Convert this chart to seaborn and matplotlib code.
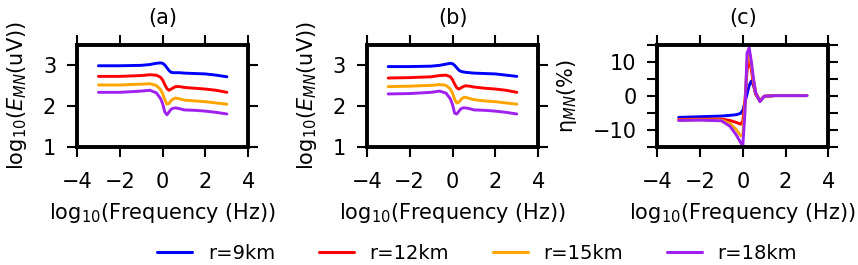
import matplotlib
matplotlib.use("Agg")
import matplotlib.pyplot as plt
import numpy as np
import pandas as pd
import seaborn as sns

# ---------------- data ----------------
freq_log = [-3, -2, -1, -0.6, -0.3, -0.1, 0, 0.1, 0.2, 0.3, 0.4, 0.5, 0.6, 0.8, 1.0, 1.5, 2, 2.5, 3]
series_labels = ["r=9km", "r=12km", "r=15km", "r=18km"]
series_colors = ["#0000ff", "#ff0000", "#ffa500", "#a020f0"]

# panel (a): log10(E_MN)
a_r9 = [2.98, 2.98, 2.99, 3.01, 3.04, 3.05, 3.04, 3.00, 2.93, 2.86, 2.82, 2.81, 2.81, 2.81, 2.80, 2.79, 2.78, 2.75, 2.71]
a_r12 = [2.72, 2.72, 2.74, 2.76, 2.75, 2.70, 2.63, 2.52, 2.42, 2.38, 2.41, 2.44, 2.47, 2.47, 2.45, 2.43, 2.41, 2.38, 2.33]
a_r15 = [2.51, 2.51, 2.53, 2.54, 2.50, 2.40, 2.30, 2.15, 2.04, 2.06, 2.13, 2.17, 2.19, 2.17, 2.14, 2.12, 2.10, 2.07, 2.04]
a_r18 = [2.33, 2.33, 2.36, 2.38, 2.32, 2.18, 2.05, 1.85, 1.78, 1.85, 1.92, 1.94, 1.95, 1.93, 1.90, 1.89, 1.87, 1.84, 1.80]

# panel (b): log10(E_MN)
b_r9 = [2.96, 2.96, 2.97, 2.99, 3.02, 3.04, 3.03, 2.99, 2.93, 2.87, 2.84, 2.83, 2.82, 2.81, 2.80, 2.79, 2.78, 2.75, 2.72]
b_r12 = [2.68, 2.69, 2.71, 2.74, 2.75, 2.71, 2.64, 2.53, 2.44, 2.41, 2.44, 2.47, 2.49, 2.48, 2.46, 2.43, 2.41, 2.38, 2.33]
b_r15 = [2.47, 2.48, 2.50, 2.52, 2.50, 2.41, 2.31, 2.16, 2.07, 2.09, 2.16, 2.20, 2.21, 2.18, 2.15, 2.12, 2.10, 2.07, 2.04]
b_r18 = [2.29, 2.30, 2.33, 2.36, 2.31, 2.17, 2.03, 1.82, 1.80, 1.87, 1.93, 1.95, 1.95, 1.93, 1.90, 1.89, 1.87, 1.84, 1.80]

# panel (c): eta_MN (%)
c_r9 = [-6.4, -6.2, -6.0, -5.8, -5.6, -5.2, -4.3, -2.0, 0.5, 3.0, 4.3, 3.0, 0.5, -1.5, -0.2, 0, 0, 0, 0]
c_r12 = [-7.0, -6.9, -6.9, -7.3, -7.9, -8.4, -7.5, -1.5, 7.5, 11.0, 7.5, 3.5, 0.5, -1.5, -0.2, 0, 0, 0, 0]
c_r15 = [-7.2, -7.1, -7.2, -8.2, -10.0, -11.8, -11.5, -3.0, 10.0, 13.0, 9.0, 4.5, 1.0, -1.6, -0.2, 0, 0, 0, 0]
c_r18 = [-7.3, -7.2, -7.4, -9.0, -11.6, -13.8, -14.8, -5.0, 12.5, 14.0, 10.0, 5.0, 1.0, -1.8, -0.2, 0, 0, 0, 0]

x_ticks = [-4, -2, 0, 2, 4]
e_ticks = [1, 2, 3]
eta_ticks = [-15, -10, -5, 0, 5, 10, 15]
eta_ticklabels = ["", "\u221210", "", "0", "", "10", ""]

panel_titles = ["(a)", "(b)", "(c)"]
xlabel_text = "log$_{10}$(Frequency (Hz))"
ylabel_e = "log$_{10}$($E_{MN}$(uV))"
ylabel_eta = "\u03b7$_{MN}$(%)"


def to_long(series_list):
    frames = []
    for lab, vals in zip(series_labels, series_list):
        frames.append(pd.DataFrame({"f": freq_log, "v": vals, "r": lab}))
    return pd.concat(frames, ignore_index=True)


df_a = to_long([a_r9, a_r12, a_r15, a_r18])
df_b = to_long([b_r9, b_r12, b_r15, b_r18])
df_c = to_long([c_r9, c_r12, c_r15, c_r18])

# ---------------- style ----------------
sns.set_style("white")
plt.rcParams["font.family"] = ["DejaVu Sans"]
plt.rcParams["mathtext.fontset"] = "dejavusans"
plt.rcParams["text.color"] = "black"
plt.rcParams["axes.labelcolor"] = "black"
plt.rcParams["xtick.color"] = "black"
plt.rcParams["ytick.color"] = "black"
plt.rcParams["lines.solid_joinstyle"] = "round"

W, H = 858, 265
fig = plt.figure(figsize=(W / 100, H / 100), dpi=100)
fig.patch.set_facecolor("white")

top_px, bot_px = 44.5, 146.7
ax_h = (bot_px - top_px) / H
ax_y = (H - bot_px) / H
lefts = [77, 366.7, 657.3]
widths = [171.3, 171.6, 171.0]

palette = dict(zip(series_labels, series_colors))
axes = []
for i, (df, left, w) in enumerate(zip([df_a, df_b, df_c], lefts, widths)):
    ax = fig.add_axes([left / W, ax_y, w / W, ax_h])
    sns.lineplot(data=df, x="f", y="v", hue="r", palette=palette,
                 hue_order=series_labels, linewidth=2.1, ax=ax,
                 legend=(i == 0), sort=True)
    ax.set_xlim(-4, 4)
    ax.set_xticks(x_ticks)
    if i < 2:
        ax.set_ylim(1, 3.5)
        ax.set_yticks(e_ticks)
        ax.set_ylabel(ylabel_e, fontsize=15, labelpad=10, color="black")
    else:
        ax.set_ylim(-15, 15)
        ax.set_yticks(eta_ticks)
        ax.set_yticklabels(eta_ticklabels)
        ax.set_ylabel(ylabel_eta, fontsize=15, labelpad=10, color="black")
    ax.set_xlabel(xlabel_text, fontsize=15, labelpad=7, color="black")
    ax.set_title(panel_titles[i], fontsize=15, pad=15, color="black")
    for sp in ax.spines.values():
        sp.set_visible(True)
        sp.set_linewidth(2.8)
        sp.set_color("black")
    ax.tick_params(axis="both", which="both", direction="out", length=7,
                   width=1.5, color="black", labelcolor="black", labelsize=15,
                   top=True, right=True, bottom=True, left=True)
    ax.tick_params(axis="x", pad=11)
    ax.tick_params(axis="y", pad=8)
    axes.append(ax)

handles, labs = axes[0].get_legend_handles_labels()
if axes[0].get_legend() is not None:
    axes[0].get_legend().remove()
for h in handles:
    h.set_linewidth(2.2)

leg = fig.legend(handles, labs, ncol=4, loc="center",
                 bbox_to_anchor=(0.556, 0.045), frameon=False, fontsize=14,
                 handlelength=1.8, handletextpad=0.8, columnspacing=2.25,
                 borderpad=0.0, borderaxespad=0.0)
for t in leg.get_texts():
    t.set_color("black")

fig.savefig("out.png", dpi=100, facecolor="white")
